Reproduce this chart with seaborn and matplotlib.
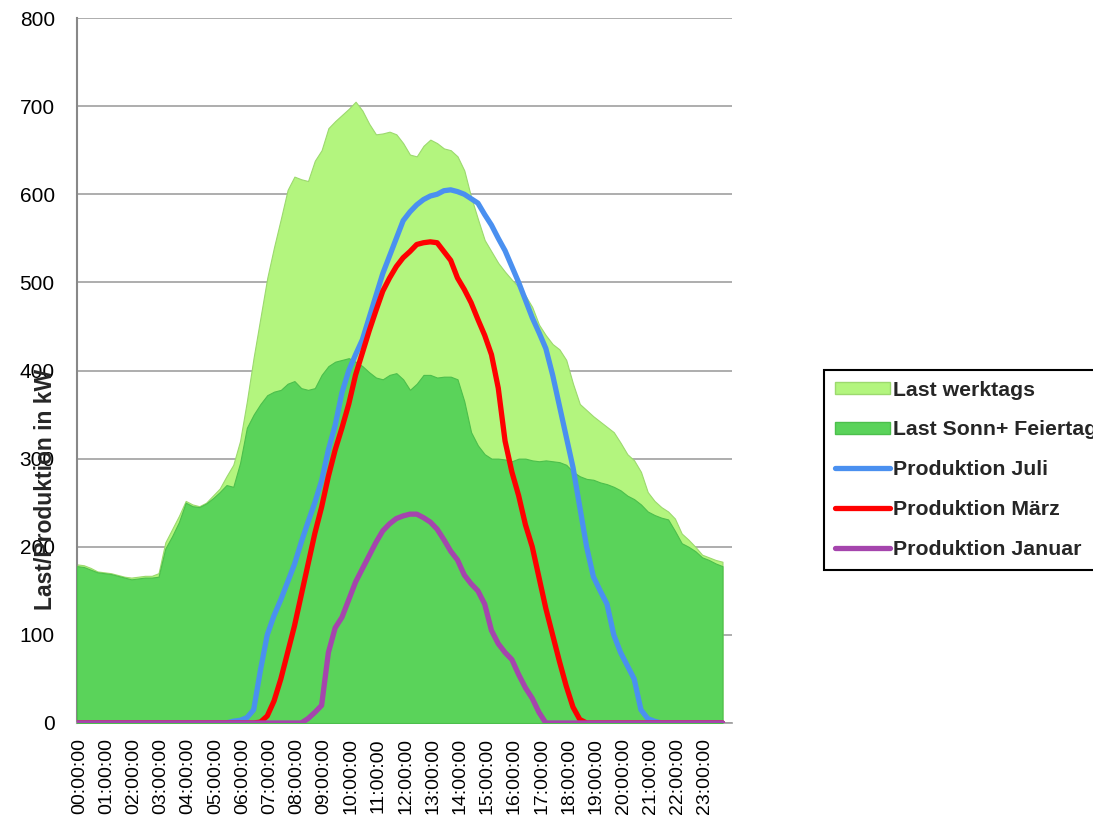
import numpy as np
import matplotlib
matplotlib.use("Agg")
import matplotlib.pyplot as plt
import matplotlib.transforms as mtransforms
from matplotlib.patches import Patch
import seaborn as sns

# 15-minute steps, 00:00 .. 23:45
zeit = ["%02d:%02d:00" % (h, m) for h in range(24) for m in (0, 15, 30, 45)]

last_werktags = [
    180, 179, 176, 172,  171, 170, 168, 166,  165, 166, 167, 167,  170, 205, 220, 235,
    252, 248, 246, 250,  258, 266, 280, 293,  320, 365, 415, 460,  505, 540, 572, 605,
    620, 617, 615, 638,  650, 675, 683, 690,  697, 705, 695, 680,  668, 669, 671, 668,
    658, 645, 643, 655,  662, 658, 652, 650,  643, 627, 597, 572,  548, 535, 522, 512,
    503, 495, 485, 472,  452, 440, 430, 424,  412, 385, 362, 355,  348, 342, 336, 330,
    318, 305, 298, 285,  262, 252, 245, 240,  232, 215, 208, 200,  191, 188, 185, 183,
]
last_sonn = [
    178, 177, 174, 171,  170, 169, 167, 165,  163, 164, 165, 165,  166, 198, 212, 228,
    250, 246, 245, 249,  255, 262, 270, 268,  295, 335, 350, 362,  372, 376, 378, 385,
    388, 380, 378, 380,  395, 405, 410, 412,  414, 410, 405, 398,  392, 390, 395, 397,
    390, 378, 385, 395,  395, 392, 393, 393,  390, 365, 330, 315,  305, 300, 300, 299,
    297, 300, 300, 298,  297, 298, 297, 296,  293, 285, 280, 277,  276, 273, 271, 268,
    264, 258, 254, 248,  240, 236, 233, 231,  218, 204, 200, 195,  188, 185, 181, 178,
]
prod_juli = [
    0, 0, 0, 0,  0, 0, 0, 0,  0, 0, 0, 0,  0, 0, 0, 0,
    0, 0, 0, 0,  0, 0, 0, 2,  3, 6, 15, 60,  100, 122, 140, 160,
    180, 205, 228, 250,  275, 310, 338, 375,  400, 418, 435, 460,  485, 510, 530, 550,
    570, 580, 588, 594,  598, 600, 604, 605,  603, 600, 595, 590,  577, 565, 550, 536,
    518, 500, 480, 460,  443, 425, 395, 360,  325, 290, 245, 200,  166, 150, 135, 100,
    80, 65, 50, 15,  5, 2, 0, 0,  0, 0, 0, 0,  0, 0, 0, 0,
]
prod_maerz = [
    0, 0, 0, 0,  0, 0, 0, 0,  0, 0, 0, 0,  0, 0, 0, 0,
    0, 0, 0, 0,  0, 0, 0, 0,  0, 0, 0, 1,  8, 25, 50, 80,
    110, 145, 180, 215,  245, 280, 310, 335,  362, 395, 420, 445,  468, 490, 505, 518,
    528, 535, 543, 545,  546, 545, 535, 525,  505, 492, 477, 458,  440, 418, 380, 320,
    285, 258, 225, 200,  165, 130, 100, 70,  42, 18, 4, 0,  0, 0, 0, 0,
    0, 0, 0, 0,  0, 0, 0, 0,  0, 0, 0, 0,  0, 0, 0, 0,
]
prod_januar = [
    0, 0, 0, 0,  0, 0, 0, 0,  0, 0, 0, 0,  0, 0, 0, 0,
    0, 0, 0, 0,  0, 0, 0, 0,  0, 0, 0, 0,  0, 0, 0, 0,
    0, 0, 5, 12,  20, 80, 108, 120,  140, 160, 175, 190,  205, 218, 226, 232,
    235, 237, 237, 233,  228, 220, 208, 195,  185, 168, 158, 150,  135, 105, 90, 80,
    72, 55, 40, 28,  12, 0, 0, 0,  0, 0, 0, 0,  0, 0, 0, 0,
    0, 0, 0, 0,  0, 0, 0, 0,  0, 0, 0, 0,  0, 0, 0, 0,
]

labels = ["Last werktags", "Last Sonn+ Feiertag", "Produktion Juli",
          "Produktion März", "Produktion Januar"]
farben = ["#B3F57E", "#5AD35A", "#4A90F0", "#FF0000", "#A545AD"]

sns.set_theme(style="white")
plt.rcParams['font.family'] = ['Liberation Sans', 'DejaVu Sans']

x = np.arange(len(zeit))

fig = plt.figure(figsize=(10.93, 8.24), dpi=100)
ax = fig.add_axes([77 / 1093, 101 / 824, 655 / 1093, 705 / 824])

ax.fill_between(x, last_werktags, color=farben[0], edgecolor="#9CD96E", linewidth=0.8, zorder=2)
ax.fill_between(x, last_sonn, color=farben[1], edgecolor="#4CBF4C", linewidth=0.8, zorder=3)
sns.lineplot(x=x, y=prod_juli, color=farben[2], linewidth=3.8, ax=ax, zorder=4)
sns.lineplot(x=x, y=prod_maerz, color=farben[3], linewidth=3.8, ax=ax, zorder=5)
sns.lineplot(x=x, y=prod_januar, color=farben[4], linewidth=3.8, ax=ax, zorder=6)

ax.set_xlim(0, 96.4)
ax.set_ylim(0, 800)
ax.set_yticks(range(0, 801, 100))
ax.set_xticks(x[::4])
ax.set_xticklabels(zeit[::4], rotation=90)
ax.tick_params(axis='y', length=0, pad=16, labelsize=15, colors='black')
ax.tick_params(axis='x', length=0, pad=11, labelsize=14, colors='black')
off = mtransforms.ScaledTranslation(2.5 / 100, 0, fig.dpi_scale_trans)
for lab in ax.get_xticklabels():
    lab.set_transform(lab.get_transform() + off)

ax.grid(axis='y', color='#A0A0A0', linewidth=1.2, zorder=0)
ax.set_axisbelow(True)
for s in ['top', 'right']:
    ax.spines[s].set_visible(False)
ax.spines['left'].set_color('#888888')
ax.spines['left'].set_linewidth(1.5)
ax.spines['bottom'].set_color('#A0A0A0')

ax.set_ylabel("Last/Produktion in kW", fontsize=16.5, fontweight='bold')
ax.yaxis.set_label_coords(-0.031, 0.331)
ax.set_xlabel("")

handles = [Patch(facecolor=farben[0], edgecolor='#9CD96E'),
           Patch(facecolor=farben[1], edgecolor='#4CBF4C'),
           plt.Line2D([], [], color=farben[2], linewidth=3.8, solid_capstyle='round'),
           plt.Line2D([], [], color=farben[3], linewidth=3.8, solid_capstyle='round'),
           plt.Line2D([], [], color=farben[4], linewidth=3.8, solid_capstyle='round')]
leg = fig.legend(handles, labels, loc='upper left', bbox_to_anchor=(824 / 1093, 1 - 370 / 824),
                 borderaxespad=0, frameon=True, fancybox=False, shadow=False,
                 prop={'size': 15.3, 'weight': 'bold'}, handlelength=2.6, handleheight=0.5,
                 handletextpad=0.15, labelspacing=0.98, borderpad=0.5)
leg.get_frame().set_edgecolor('black')
leg.get_frame().set_linewidth(1.5)
leg.get_frame().set_facecolor('white')
leg.get_frame().set_alpha(1)

fig.savefig("out.png", dpi=100)
